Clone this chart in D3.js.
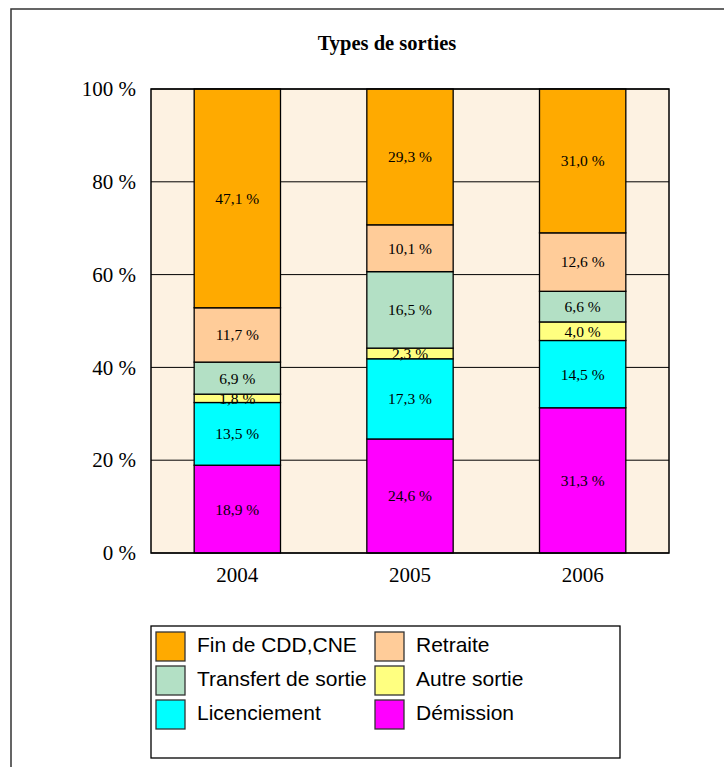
<!DOCTYPE html>
<html>
<head>
<meta charset="utf-8">
<script src="https://cdn.jsdelivr.net/npm/d3@7"></script>
<style>
  body { margin: 0; background: #fff; }
  svg { display: block; }
</style>
</head>
<body>
<div class="main"></div>
<script>
const w = 724;
const h = 767;

const years = ['2004', '2005', '2006'];
// stacked bottom -> top
const series = ['Démission', 'Licenciement', 'Autre sortie', 'Transfert de sortie', 'Retraite', 'Fin de CDD,CNE'];
const demission = [18.9, 24.6, 31.3];
const licenciement = [13.5, 17.3, 14.5];
const autre = [1.8, 2.3, 4.0];
const transfert = [6.9, 16.5, 6.6];
const retraite = [11.7, 10.1, 12.6];
const finCdd = [47.1, 29.3, 31.0];
const yTicks = [0, 20, 40, 60, 80, 100];
const legendOrder = ['Fin de CDD,CNE', 'Retraite', 'Transfert de sortie', 'Autre sortie', 'Licenciement', 'Démission'];

const colors = {
  'Fin de CDD,CNE': '#ffaa00',
  'Retraite': '#ffcc99',
  'Transfert de sortie': '#b3e0c5',
  'Autre sortie': '#ffff80',
  'Licenciement': '#00ffff',
  'Démission': '#ff00ff'
};

const values = [demission, licenciement, autre, transfert, retraite, finCdd];
const rows = years.map(function (y, i) {
  const r = { year: y };
  series.forEach(function (s, k) { r[s] = values[k][i]; });
  return r;
});

const plot = { left: 151, right: 669, top: 89, bottom: 553 };

const svg = d3.select('.main').append('svg').attr('width', w).attr('height', h);

// outer frame
svg.append('rect')
  .attr('x', 11).attr('y', 9).attr('width', 760).attr('height', 800)
  .attr('fill', '#fff').attr('stroke', '#333').attr('stroke-width', 1.5);

svg.append('text')
  .attr('x', 387).attr('y', 50)
  .attr('text-anchor', 'middle')
  .attr('font-family', '"Liberation Serif", "Times New Roman", serif')
  .attr('font-weight', 'bold')
  .attr('font-size', 20.5)
  .text('Types de sorties');

const x = d3.scaleBand().domain(years).range([plot.left, plot.right])
  .paddingInner(0.5).paddingOuter(0.25);
const y = d3.scaleLinear().domain([0, 1]).range([plot.bottom, plot.top]);

const stack = d3.stack().keys(series).offset(d3.stackOffsetExpand);
const stacked = stack(rows);

svg.append('rect')
  .attr('x', plot.left).attr('y', plot.top)
  .attr('width', plot.right - plot.left).attr('height', plot.bottom - plot.top)
  .attr('fill', '#fdf2e2');

// gridlines
svg.append('g').selectAll('line')
  .data(yTicks)
  .enter()
  .append('line')
  .attr('x1', plot.left).attr('x2', plot.right)
  .attr('y1', function (d) { return y(d / 100); })
  .attr('y2', function (d) { return y(d / 100); })
  .attr('stroke', '#000').attr('stroke-width', 1);

// bars
const layer = svg.append('g').selectAll('g')
  .data(stacked)
  .enter()
  .append('g')
  .attr('fill', function (d) { return colors[d.key]; });

layer.selectAll('rect')
  .data(function (d) { return d; })
  .enter()
  .append('rect')
  .attr('x', function (d) { return x(d.data.year); })
  .attr('y', function (d) { return y(d[1]); })
  .attr('width', x.bandwidth())
  .attr('height', function (d) { return y(d[0]) - y(d[1]); })
  .attr('stroke', '#000').attr('stroke-width', 1.3);

// value labels
stacked.forEach(function (s) {
  svg.append('g').selectAll('text')
    .data(s)
    .enter()
    .append('text')
    .attr('x', function (d) { return x(d.data.year) + x.bandwidth() / 2; })
    .attr('y', function (d) { return (y(d[0]) + y(d[1])) / 2; })
    .attr('dy', '0.35em')
    .attr('text-anchor', 'middle')
    .attr('font-family', '"Liberation Serif", "Times New Roman", serif')
    .attr('font-size', 15.5)
    .attr('fill', '#000')
    .text(function (d) { return d3.format('.1f')(d.data[s.key]).replace('.', ',') + ' %'; });
});

// plot border
svg.append('rect')
  .attr('x', plot.left).attr('y', plot.top)
  .attr('width', plot.right - plot.left).attr('height', plot.bottom - plot.top)
  .attr('fill', 'none').attr('stroke', '#000').attr('stroke-width', 1.5);

// y axis
const yAxis = d3.axisLeft(y)
  .tickValues(yTicks.map(function (d) { return d / 100; }))
  .tickSize(0).tickPadding(15)
  .tickFormat(function (d) { return Math.round(d * 100) + ' %'; });
const ya = svg.append('g').attr('transform', 'translate(' + plot.left + ',0)').call(yAxis);
ya.select('.domain').remove();
ya.selectAll('text')
  .attr('font-family', '"Liberation Serif", "Times New Roman", serif')
  .attr('font-size', 21).attr('fill', '#000');

// x axis
const xAxis = d3.axisBottom(x).tickSize(0).tickPadding(14);
const xa = svg.append('g').attr('transform', 'translate(0,' + plot.bottom + ')').call(xAxis);
xa.select('.domain').remove();
xa.selectAll('text')
  .attr('font-family', '"Liberation Serif", "Times New Roman", serif')
  .attr('font-size', 21).attr('fill', '#000');

// legend
const legend = svg.append('g');
legend.append('rect')
  .attr('x', 151).attr('y', 626).attr('width', 469).attr('height', 132)
  .attr('fill', '#fff').attr('stroke', '#000').attr('stroke-width', 1.3);

const item = legend.selectAll('g.item')
  .data(legendOrder)
  .enter()
  .append('g')
  .attr('class', 'item')
  .attr('transform', function (d, i) {
    return 'translate(' + (156 + (i % 2) * 219) + ',' + (632 + Math.floor(i / 2) * 34) + ')';
  });

item.append('rect')
  .attr('width', 29).attr('height', 29)
  .attr('fill', function (d) { return colors[d]; })
  .attr('stroke', '#333').attr('stroke-width', 1.3);

item.append('text')
  .attr('x', 41).attr('y', 13).attr('dy', '0.35em')
  .attr('font-family', '"Liberation Sans", Arial, sans-serif')
  .attr('font-size', 21)
  .attr('fill', '#000')
  .text(function (d) { return d; });
</script>
</body>
</html>
